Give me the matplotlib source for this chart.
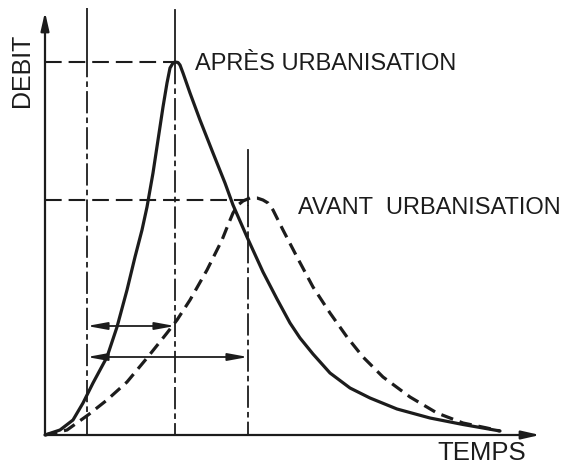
import matplotlib
matplotlib.use("Agg")
import matplotlib.pyplot as plt

plt.rcParams['lines.scale_dashes'] = False
plt.rcParams['font.family'] = ['Liberation Sans', 'DejaVu Sans']

# Hydrograph after urbanisation (time, discharge), arbitrary units
t_apres = [0.0, 1.5, 2.8, 3.8, 4.8, 6.2, 7.2, 8.2, 9.0, 9.7, 10.2, 10.8, 11.3,
           11.8, 12.2, 12.5, 12.8, 13.0, 13.3, 13.5, 13.8, 14.5, 15.5, 16.8,
           18.0, 18.8, 20.2, 21.8, 23.2, 24.5, 25.5, 26.8, 28.5, 30.5, 32.5,
           35.2, 38.5, 41.8, 43.8, 45.5]
q_apres = [0.0, 0.5, 1.5, 3.2, 5.2, 7.8, 10.8, 14.5, 17.8, 20.5, 22.8, 26.2, 29.5,
           32.8, 35.2, 36.7, 37.2, 37.3, 37.25, 37.0, 36.2, 34.2, 31.5, 28.2,
           25.2, 23.0, 19.8, 16.3, 13.6, 11.2, 9.7, 8.1, 6.2, 4.7, 3.7,
           2.6, 1.7, 1.05, 0.7, 0.4]

# Hydrograph before urbanisation
t_avant = [0.0, 2.2, 4.3, 6.2, 8.2, 10.2, 12.2, 13.2, 14.5, 16.2, 17.7, 18.3,
           18.8, 19.3, 19.8, 20.5, 21.2, 21.8, 22.3, 22.8, 23.8, 25.2, 26.8,
           28.5, 30.2, 31.8, 33.8, 36.5, 39.2, 41.8, 44.2, 45.5]
q_avant = [0.0, 0.5, 2.0, 3.5, 5.3, 7.7, 10.2, 11.5, 13.5, 16.5, 19.5, 21.0,
           22.2, 23.0, 23.4, 23.7, 23.7, 23.5, 23.2, 22.5, 20.5, 17.8, 14.8,
           12.2, 9.8, 7.8, 5.8, 3.8, 2.2, 1.2, 0.7, 0.4]

# Reference time (centre of rainfall), peak times and peak discharges
t_ref = 4.2
t_peaks = [13.0, 20.3]
q_peaks = [37.3, 23.5]
# Heights of the lag-time arrows
q_lag_arrows = [10.9, 7.8]

labels = ["APRÈS URBANISATION", "AVANT  URBANISATION"]
x_label = "TEMPS"
y_label = "DEBIT"

ink = '#1c1c1c'

fig = plt.figure(figsize=(5.75, 4.66), dpi=100)
ax = fig.add_axes([0, 0, 1, 1])
ax.set_xlim(-4.5, 53.0)
ax.set_ylim(-3.1, 43.5)
ax.axis('off')

# Axes with arrowheads
arrow_axis = dict(arrowstyle='-|>,head_length=1.1,head_width=0.25', color=ink,
                  lw=1.6, shrinkA=0, shrinkB=0)
ax.annotate('', xy=(0, 42.3), xytext=(0, 0), arrowprops=arrow_axis)
ax.annotate('', xy=(49.5, 0), xytext=(0, 0), arrowprops=arrow_axis)

# Vertical reference lines: solid upper part, dash-dot lower part
vert_dash = (0, (16, 3, 4, 3))
ax.plot([t_ref, t_ref], [42.7, 38.0], color=ink, lw=1.3, solid_capstyle='butt')
ax.plot([t_ref, t_ref], [38.0, 0], color=ink, lw=1.3, linestyle=vert_dash)
ax.plot([t_peaks[0]] * 2, [42.5, q_peaks[0]], color=ink, lw=1.3)
ax.plot([t_peaks[0]] * 2, [q_peaks[0], 0], color=ink, lw=1.3, linestyle=vert_dash)
ax.plot([t_peaks[1]] * 2, [28.5, q_peaks[1] - 0.5], color=ink, lw=1.3)
ax.plot([t_peaks[1]] * 2, [q_peaks[1] - 0.5, 0], color=ink, lw=1.3, linestyle=vert_dash)

# Horizontal dashed lines at the peak discharges
for tp, qp in zip(t_peaks, q_peaks):
    ax.plot([0, tp], [qp, qp], color=ink, lw=1.5, linestyle=(0, (12, 5)))

# Hydrographs
ax.plot(t_apres, q_apres, color=ink, lw=2.3, solid_joinstyle='round',
        solid_capstyle='round')
ax.plot(t_avant, q_avant, color=ink, lw=2.3, linestyle=(0, (9, 5)),
        dash_joinstyle='round', dash_capstyle='butt')

# Lag-time arrows from the reference time to each peak
arrow_lag = dict(arrowstyle='<|-|>,head_length=1.2,head_width=0.22', color=ink,
                 lw=1.3, shrinkA=0, shrinkB=0)
for tp, qa in zip(t_peaks, q_lag_arrows):
    ax.annotate('', xy=(tp, qa), xytext=(t_ref, qa), arrowprops=arrow_lag)

# Text
ax.text(15.0, 37.1, labels[0], fontsize=17, color=ink, ha='left', va='center')
ax.text(25.3, 22.7, labels[1], fontsize=17, color=ink, ha='left', va='center')
ax.text(43.7, -1.8, x_label, fontsize=18.5, color=ink, ha='center', va='center')
ax.text(-2.3, 36.5, y_label, fontsize=18, color=ink, ha='center', va='center',
        rotation=90)

fig.savefig('out.png', dpi=100)
